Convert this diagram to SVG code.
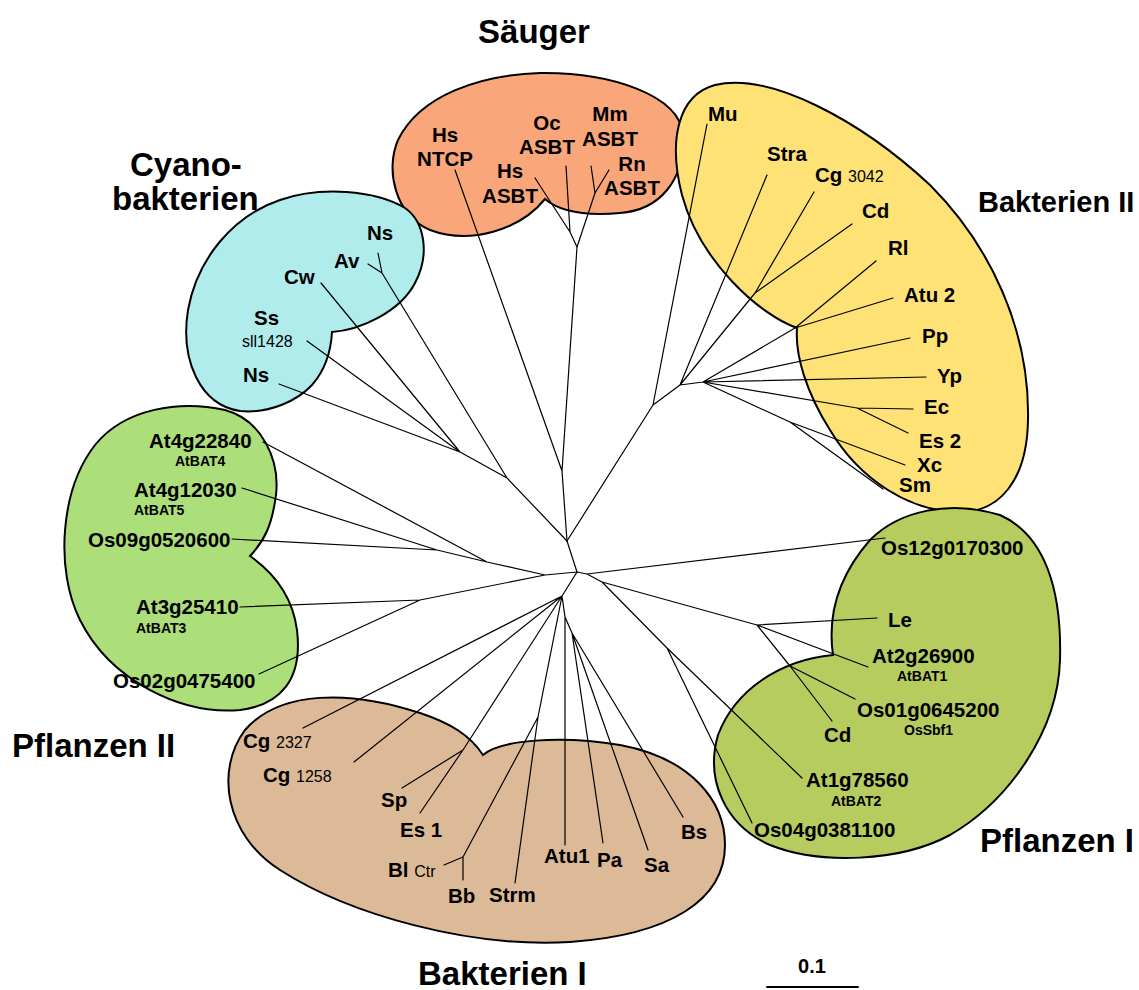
<svg xmlns="http://www.w3.org/2000/svg" width="1139" height="990" viewBox="0 0 1139 990">
<style>
.blob{stroke:#000;stroke-width:2}
.br{fill:none;stroke:#000;stroke-width:1.2;stroke-linecap:round;stroke-linejoin:round}
text{font-family:"Liberation Sans",Arial,sans-serif;fill:#000}
.lf{font-size:20.5px;font-weight:bold}
.sub{font-size:14px;font-weight:bold}
.sm{font-size:16px}
.tt{font-size:33px;font-weight:bold}
</style>
<rect width="1139" height="990" fill="#fff"/>
<g id="blob-saeuger"><path class="blob" fill="#F9A77A" d="M545,199 C520,230 470,245 430,230 C395,215 385,170 398,140 C420,95 480,75 540,73 C610,72 680,95 683,135 C685,180 660,210 620,213 C585,216 560,212 545,199 Z"/></g>
<g id="blob-cyano"><path class="blob" fill="#B0ECEC" d="M332,332 C360,330 400,312 415,283 C430,255 425,222 405,208 C375,190 320,186 280,200 C232,216 197,260 188,310 C180,360 200,405 240,411 C270,414 298,400 312,385 C327,368 331,350 332,332 Z"/></g>
<g id="blob-bakterien2"><path class="blob" fill="#FFE276" d="M797,328 C760,315 700,262 682,195 C668,140 678,95 715,85 C770,72 860,120 930,185 C990,245 1030,330 1028,420 C1027,480 1000,512 960,512 C910,512 860,480 830,430 C806,392 795,355 797,328 Z"/></g>
<g id="blob-pflanzen2"><path class="blob" fill="#ACDE7A" d="M250,556 C270,570 292,592 297,630 C303,680 280,705 240,710 C180,715 110,680 80,620 C55,570 60,490 95,445 C125,408 180,400 225,410 C262,420 280,460 276,495 C272,525 265,540 250,556 Z"/></g>
<g id="blob-bakterien1"><path class="blob" fill="#DCBA97" d="M483,755 C500,740 560,735 620,745 C690,758 725,800 725,845 C725,900 670,935 570,942 C470,948 350,915 280,870 C225,835 215,770 245,730 C280,690 350,690 420,713 C450,723 470,735 483,755 Z"/></g>
<g id="blob-pflanzen1"><path class="blob" fill="#B7CC5F" d="M833,655 C828,620 835,580 870,540 C900,510 950,500 1000,515 C1045,535 1062,590 1060,660 C1058,730 1010,800 950,835 C900,862 820,865 770,845 C725,825 705,780 718,735 C735,690 780,660 833,655 Z"/></g>

<g id="connectors">
<path class="br" d="M577,572 L567,541 L562,471 L577,247 M562,471 L455,170"/>
<path class="br" d="M577,247 L570,232 L535,178 M570,232 L566,166 M577,247 L595,193 L591,166 M595,193 L609,170"/>
<path class="br" d="M567,541 L507,478 L382,273 L378,253 M382,273 L368,264 M507,478 L460,452 L321,283 M460,452 L307,341 M460,452 L279,384"/>
<path class="br" d="M567,541 L653,405 L707,124 M653,405 L680,385 L767,175 M680,385 L755,293 L814,192 M755,293 L852,224 M680,385 L703,382 L795,328 L876,261 M795,328 L893,298 M703,382 L910,338 M703,382 L926,377 M703,382 L857,408 L913,409 M857,408 L908,433 M703,382 L790,422 L905,465 M790,422 L883,489"/>
<path class="br" d="M577,572 L545,575 L487,562 L263,442 M487,562 L437,550 L232,539 M437,550 L242,488 M545,575 L420,600 L240,607 M420,600 L259,674"/>
<path class="br" d="M577,572 L587,574 L885,538 M587,574 L602,582 L757,625 L877,618 M757,625 L868,667 M757,625 L790,666 L832,721 M790,666 L855,699 M602,582 L667,648 L802,778 M667,648 L752,823"/>
<path class="br" d="M577,572 L562,596 L303,728 M562,596 L354,762 M562,596 L463,750 L402,788 M463,750 L420,813 M562,596 L538,717 L515,883 M538,717 L463,857 L444,865 M463,857 L463,880 M562,596 L565,617 L565,845 M565,617 L572,633 L603,843 M572,633 L648,850 M572,633 L683,817"/>
<path class="br" d="M767,987 L858,987" style="stroke-width:2"/>
</g>

<g id="titles">
<text class="tt" x="534" y="43" text-anchor="middle">Säuger</text>
<text class="tt" x="130" y="176">Cyano-</text>
<text class="tt" x="112" y="210">bakterien</text>
<text class="tt" x="978" y="212" style="font-size:29px">Bakterien II</text>
<text class="tt" x="12" y="757">Pflanzen II</text>
<text class="tt" x="418" y="985">Bakterien I</text>
<text class="tt" x="980" y="852">Pflanzen I</text>
</g>

<g id="node-saeuger" class="lf" text-anchor="middle">
<text x="445" y="142">Hs</text><text x="445" y="166">NTCP</text>
<text x="547" y="130">Oc</text><text x="547" y="154">ASBT</text>
<text x="510" y="178">Hs</text><text x="510" y="203">ASBT</text>
<text x="610" y="121">Mm</text><text x="610" y="146">ASBT</text>
<text x="632" y="171">Rn</text><text x="632" y="195">ASBT</text>
</g>

<g id="node-cyano">
<text class="lf" x="367" y="240">Ns</text>
<text class="lf" x="334" y="268">Av</text>
<text class="lf" x="284" y="284">Cw</text>
<text class="lf" x="254" y="325">Ss</text>
<text class="sm" x="242" y="347">sll1428</text>
<text class="lf" x="243" y="382">Ns</text>
</g>

<g id="node-bakterien2" class="lf">
<text x="708" y="121">Mu</text>
<text x="767" y="161">Stra</text>
<text x="815" y="182">Cg <tspan class="sm" font-weight="normal">3042</tspan></text>
<text x="862" y="218">Cd</text>
<text x="888" y="255">Rl</text>
<text x="904" y="302">Atu 2</text>
<text x="922" y="343">Pp</text>
<text x="937" y="383">Yp</text>
<text x="924" y="414">Ec</text>
<text x="919" y="448">Es 2</text>
<text x="917" y="472">Xc</text>
<text x="899" y="492">Sm</text>
</g>

<g id="node-pflanzen2">
<text class="lf" x="149" y="448">At4g22840</text>
<text class="sub" x="175" y="466">AtBAT4</text>
<text class="lf" x="134" y="497">At4g12030</text>
<text class="sub" x="134" y="515">AtBAT5</text>
<text class="lf" x="88" y="547">Os09g0520600</text>
<text class="lf" x="136" y="614">At3g25410</text>
<text class="sub" x="136" y="633">AtBAT3</text>
<text class="lf" x="113" y="688">Os02g0475400</text>
</g>

<g id="node-bakterien1" class="lf">
<text x="243" y="748">Cg <tspan class="sm" font-weight="normal">2327</tspan></text>
<text x="263" y="782">Cg <tspan class="sm" font-weight="normal">1258</tspan></text>
<text x="381" y="807">Sp</text>
<text x="400" y="837">Es 1</text>
<text x="388" y="877">Bl <tspan class="sm" font-weight="normal">Ctr</tspan></text>
<text x="448" y="903">Bb</text>
<text x="489" y="902">Strm</text>
<text x="544" y="863">Atu1</text>
<text x="597" y="867">Pa</text>
<text x="644" y="872">Sa</text>
<text x="681" y="839">Bs</text>
</g>

<g id="node-pflanzen1">
<text class="lf" x="881" y="555">Os12g0170300</text>
<text class="lf" x="888" y="627">Le</text>
<text class="lf" x="872" y="663">At2g26900</text>
<text class="sub" x="897" y="681">AtBAT1</text>
<text class="lf" x="857" y="717">Os01g0645200</text>
<text class="sub" x="904" y="735">OsSbf1</text>
<text class="lf" x="824" y="742">Cd</text>
<text class="lf" x="806" y="787">At1g78560</text>
<text class="sub" x="831" y="806">AtBAT2</text>
<text class="lf" x="754" y="837">Os04g0381100</text>
</g>

<g id="scale"><text x="812" y="973" text-anchor="middle" style="font-size:20px;font-weight:bold">0.1</text></g>
</svg>
